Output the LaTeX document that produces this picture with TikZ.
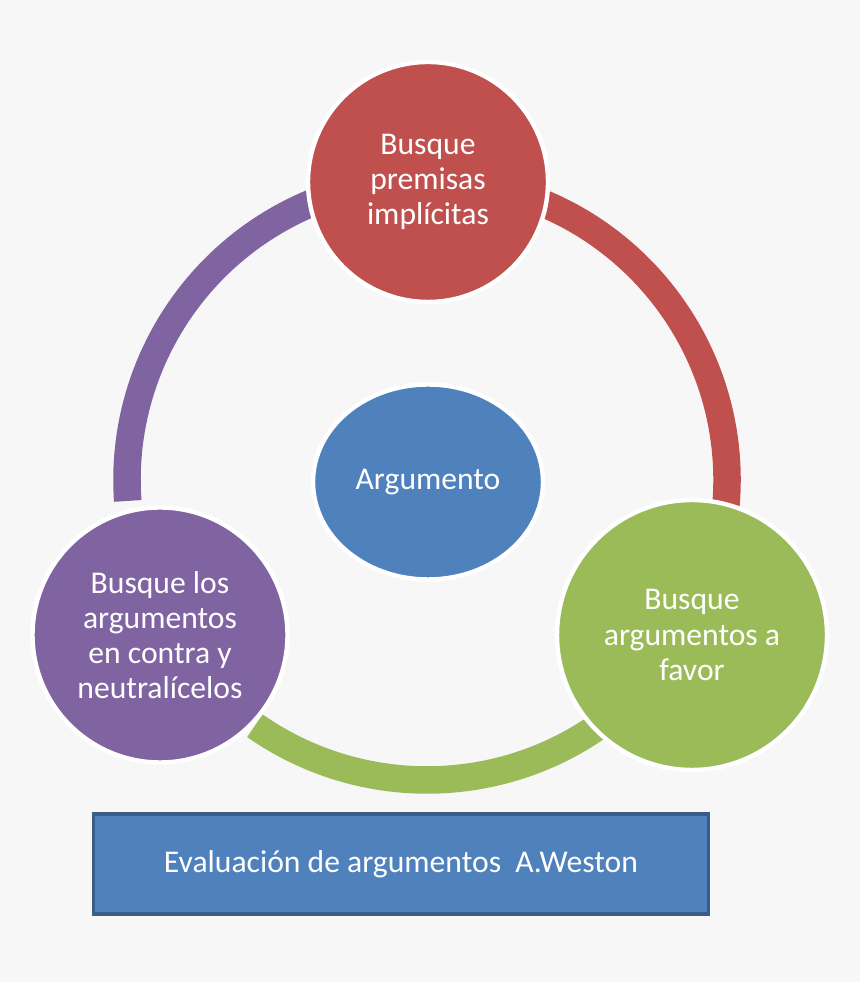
\documentclass[tikz,border=0pt]{standalone}
\usepackage{fontspec}
\setmainfont{Carlito}
\usetikzlibrary{positioning,shapes.geometric}
\definecolor{cred}{HTML}{C0504D}
\definecolor{cpurple}{HTML}{8064A2}
\definecolor{cgreen}{HTML}{9BBB59}
\definecolor{cblue}{HTML}{4F81BD}
\definecolor{cborder}{HTML}{385D8A}
\definecolor{cbg}{HTML}{F7F7F7}
\begin{document}
\begin{tikzpicture}[
    x=0.02cm, y=0.02cm,
    stage/.style={circle,draw=white,line width=2.5pt,text=white,align=center,
      font=\fontsize{18}{20}\selectfont},
    band/.style={line width=0.55cm}]

    % background
    \fill[cbg] (0,0) rectangle (860,982);
    \useasboundingbox (0,0) rectangle (860,982);

    % ring segments
    \coordinate (ring) at (427,502);
    \draw[band,cred] (ring) ++(80:300) arc (80:-5:300);
    \draw[band,cgreen] (ring) ++(-55:300) arc (-55:-125:300);
    \draw[band,cpurple] (ring) ++(184:300) arc (184:112:300);

    % stages
    \node[stage,fill=cred,minimum size=4.8cm] (premisas) at (428,800) {Busque\\premisas\\implícitas};
    \node[stage,fill=cpurple,minimum size=5.1cm] (contra) at (160,347) {Busque los\\argumentos\\en contra y\\neutralícelos};
    \node[stage,fill=cgreen,minimum size=5.4cm] (favor) at (692,347) {Busque\\argumentos a\\favor};

    % center
    \node[ellipse,fill=cblue,draw=white,line width=2.5pt,text=white,
      minimum width=4.6cm,minimum height=3.9cm,
      font=\fontsize{18}{20}\selectfont] (arg) at (428,500) {Argumento};

    % title box
    \node[rectangle,fill=cblue,draw=cborder,line width=2pt,text=white,
      minimum width=12.3cm,minimum height=2cm,
      font=\fontsize{18}{20}\selectfont] (title) at (401,118) {Evaluación de argumentos\ \ A.Weston};
\end{tikzpicture}
\end{document}
